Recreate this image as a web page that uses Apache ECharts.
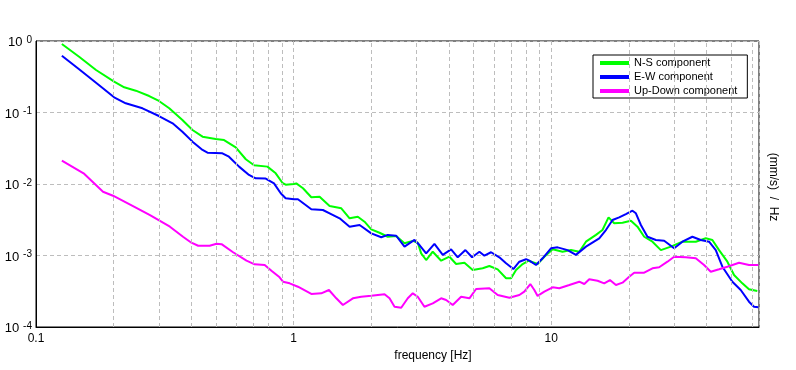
<!DOCTYPE html>
<html>
<head>
<meta charset="utf-8">
<script src="https://cdn.jsdelivr.net/npm/echarts@6/dist/echarts.min.js"></script>
<style>
html,body{margin:0;padding:0;background:#fff;}
#chart{width:796px;height:370px;}
</style>
</head>
<body>
<div id="chart"></div>
<script>
const seriesNames = ['N-S component', 'E-W component', 'Up-Down component'];
const seriesColors = ['#00ff00', '#0000ff', '#ff00ff'];

const nsData = [
[0.126,0.908],[0.147,0.603],[0.171,0.393],[0.201,0.270],[0.220,0.225],[0.244,0.202],[0.275,0.170],[0.300,0.145],[0.329,0.1145],[0.370,0.0785],[0.405,0.0569],[0.443,0.0459],[0.498,0.0426],[0.537,0.0412],[0.596,0.0326],[0.652,0.0222],[0.702,0.0183],[0.791,0.0175],[0.852,0.0141],[0.904,0.0104],[0.931,0.00978],[1.003,0.0100],[1.024,0.0102],[1.087,0.00871],[1.171,0.00652],[1.261,0.00664],[1.379,0.00492],[1.531,0.00457],[1.649,0.00331],[1.775,0.00349],[1.884,0.00297],[2.001,0.00232],[2.154,0.00208],[2.320,0.00183],[2.500,0.00187],[2.693,0.00148],[2.900,0.00160],[3.032,0.00151],[3.126,0.00107],[3.268,0.000865],[3.467,0.00113],[3.737,0.000846],[4.024,0.000962],[4.272,0.000760],[4.601,0.000793],[4.955,0.000627],[5.416,0.000662],[5.750,0.000713],[6.193,0.000641],[6.675,0.000480],[6.980,0.000480],[7.298,0.000627],[7.741,0.000760],[8.166,0.000846],[8.849,0.000760],[9.396,0.000962],[10.12,0.00122],[11.06,0.00113],[11.92,0.00119],[12.84,0.00113],[13.63,0.00156],[14.91,0.00194],[15.80,0.00227],[16.68,0.00342],[17.55,0.00282],[18.90,0.00288],[20.37,0.00307],[21.60,0.00253],[22.94,0.00183],[24.70,0.00156],[26.62,0.00119],[29.11,0.00133],[32.28,0.00156],[36.38,0.00156],[39.78,0.00174],[42.19,0.00165],[44.79,0.00119],[48.24,0.000819],[51.21,0.000534],[55.14,0.000408],[58.53,0.000337],[63.04,0.000319]
];

const ewData = [
[0.126,0.623],[0.147,0.402],[0.171,0.261],[0.201,0.163],[0.223,0.1345],[0.259,0.1145],[0.300,0.0893],[0.339,0.0706],[0.370,0.0539],[0.405,0.0391],[0.443,0.0299],[0.463,0.0274],[0.529,0.0269],[0.561,0.0241],[0.614,0.0175],[0.671,0.0134],[0.712,0.0120],[0.779,0.0119],[0.839,0.0102],[0.891,0.00741],[0.931,0.00631],[1.003,0.00611],[1.039,0.00611],[1.171,0.00443],[1.299,0.00433],[1.379,0.00389],[1.508,0.00331],[1.649,0.00253],[1.803,0.00267],[2.001,0.00204],[2.188,0.00180],[2.320,0.00194],[2.500,0.00189],[2.693,0.00133],[2.944,0.00165],[3.079,0.00140],[3.268,0.00107],[3.519,0.00145],[3.791,0.00102],[4.085,0.00122],[4.334,0.000944],[4.642,0.00119],[4.927,0.000944],[5.260,0.00113],[5.500,0.000993],[5.838,0.00111],[6.285,0.000944],[6.675,0.000778],[7.124,0.000647],[7.516,0.000819],[7.980,0.000885],[8.217,0.000846],[8.724,0.000736],[9.254,0.000914],[9.972,0.00126],[10.58,0.00130],[11.57,0.00119],[12.46,0.00102],[13.63,0.00133],[15.35,0.00174],[16.29,0.00227],[17.29,0.00314],[18.34,0.00342],[19.48,0.00380],[20.66,0.00423],[21.30,0.00389],[22.27,0.00267],[23.62,0.00183],[25.46,0.00165],[27.42,0.00161],[29.98,0.00126],[32.28,0.00156],[35.29,0.00183],[38.03,0.00165],[40.96,0.00156],[43.49,0.00119],[46.13,0.000697],[50.44,0.000430],[54.36,0.000329],[58.53,0.000226],[61.20,0.000192],[63.61,0.000189]
];

const udData = [
[0.126,0.0212],[0.153,0.0141],[0.182,0.00780],[0.199,0.00686],[0.238,0.00492],[0.277,0.00368],[0.331,0.00253],[0.372,0.00183],[0.401,0.00151],[0.426,0.00137],[0.472,0.00137],[0.502,0.00146],[0.525,0.00144],[0.582,0.00111],[0.656,0.000846],[0.706,0.000753],[0.772,0.000736],[0.820,0.000613],[0.882,0.000495],[0.909,0.000430],[0.965,0.000408],[1.039,0.000366],[1.171,0.000290],[1.280,0.000296],[1.371,0.000329],[1.464,0.000252],[1.553,0.000203],[1.698,0.000252],[1.830,0.000265],[2.001,0.000274],[2.253,0.000287],[2.356,0.000252],[2.464,0.000192],[2.615,0.000186],[2.773,0.000252],[2.900,0.000296],[3.032,0.000265],[3.218,0.000192],[3.467,0.000214],[3.737,0.000252],[3.907,0.000239],[4.144,0.000203],[4.467,0.000265],[4.811,0.000252],[5.106,0.000340],[5.750,0.000348],[6.193,0.000280],[6.874,0.000257],[7.516,0.000280],[7.857,0.000312],[8.291,0.000399],[8.594,0.000329],[8.849,0.000272],[9.396,0.000312],[10.12,0.000359],[10.74,0.000348],[11.75,0.000387],[12.84,0.000430],[13.43,0.000399],[14.04,0.000465],[15.12,0.000444],[16.05,0.000408],[16.89,0.000454],[17.82,0.000387],[18.90,0.000417],[20.06,0.000505],[20.98,0.000574],[22.94,0.000574],[24.70,0.000662],[26.22,0.000684],[28.24,0.000819],[29.98,0.000962],[33.27,0.000944],[36.38,0.000914],[39.17,0.000736],[41.59,0.000593],[44.79,0.000641],[48.24,0.000697],[53.55,0.000793],[58.53,0.000736],[63.61,0.000736]
];

const xMin = 0.1, xMax = 64;
const yMin = 0.0001, yMax = 1;
const minorFreqTicks = [0.2,0.3,0.4,0.5,0.6,0.7,0.8,0.9,2,3,4,5,6,7,8,9,20,30,40,50,60];

const FONT = 'Liberation Sans';
const gridDash = [4, 3];
const gridColor = '#bdbdbd';

const chart = echarts.init(document.getElementById('chart'), null, {renderer: 'canvas'});

const dataSets = [nsData, ewData, udData];
const lineSeries = dataSets.map((d, i) => ({
  name: seriesNames[i],
  type: 'line',
  data: d,
  showSymbol: false,
  symbol: 'none',
  z: 3,
  lineStyle: {color: seriesColors[i], width: 2},
  itemStyle: {color: seriesColors[i]},
  animation: false
}));

const option = {
  animation: false,
  backgroundColor: '#ffffff',
  textStyle: {fontFamily: FONT},
  grid: {left: 36, right: 37, top: 41, bottom: 43, show: true, borderColor: '#000', borderWidth: 1, backgroundColor: 'transparent'},
  legend: {
    data: seriesNames,
    orient: 'vertical',
    left: 593,
    top: 55,
    icon: 'rect',
    itemWidth: 29,
    itemHeight: 4,
    itemGap: 0,
    padding: [1, 10, 0, 7],
    backgroundColor: '#ffffff',
    borderColor: '#000',
    borderWidth: 1,
    textStyle: {fontFamily: FONT, fontSize: 11, color: '#000', lineHeight: 14, padding: [0, 0, 0, 0]},
    selectedMode: false
  },
  xAxis: {
    type: 'log',
    logBase: 10,
    min: xMin,
    max: xMax,
    name: 'frequency [Hz]',
    nameLocation: 'middle',
    nameGap: 18,
    nameTextStyle: {fontFamily: FONT, fontSize: 12, color: '#000', padding: [0, 0, 0, 71]},
    axisLine: {show: true, lineStyle: {color: '#000', width: 1}},
    axisTick: {show: false},
    axisLabel: {fontFamily: FONT, fontSize: 12, color: '#000', margin: 6, showMaxLabel: false,
      formatter: v => String(v)},
    splitLine: {show: true, lineStyle: {type: gridDash, color: gridColor, width: 1}}
  },
  yAxis: [{
    type: 'log',
    logBase: 10,
    min: yMin,
    max: yMax,
    axisLine: {show: true, lineStyle: {color: '#000', width: 1}},
    axisTick: {show: false},
    axisLabel: {
      margin: 4,
      formatter: v => '{b|10}{s|' + Math.round(Math.log10(v)) + '}',
      rich: {
        b: {fontFamily: FONT, fontSize: 13, color: '#000', lineHeight: 16, padding: [4, 0, 0, 0], verticalAlign: 'bottom'},
        s: {fontFamily: FONT, fontSize: 10, color: '#000', lineHeight: 10, padding: [2, 0, 0, 4], verticalAlign: 'top'}
      }
    },
    splitLine: {show: true, lineStyle: {type: gridDash, color: gridColor, width: 1}}
  }, {
    type: 'log',
    logBase: 10,
    min: yMin,
    max: yMax,
    position: 'right',
    name: '(mm/s)  /  Hz',
    nameLocation: 'middle',
    nameRotate: -90,
    nameGap: 8,
    nameTextStyle: {fontFamily: FONT, fontSize: 12, color: '#000', padding: [0, 0, 0, 6]},
    axisLine: {show: false},
    axisTick: {show: false},
    axisLabel: {show: false},
    splitLine: {show: false}
  }],
  series: [{
    name: 'minor-grid',
    type: 'line',
    data: [],
    z: 1,
    silent: true,
    markLine: {
      silent: true,
      symbol: ['none', 'none'],
      label: {show: false},
      animation: false,
      lineStyle: {type: gridDash, color: gridColor, width: 1},
      data: minorFreqTicks.map(f => ({xAxis: f}))
    }
  }].concat(lineSeries)
};

chart.setOption(option);
</script>
</body>
</html>
